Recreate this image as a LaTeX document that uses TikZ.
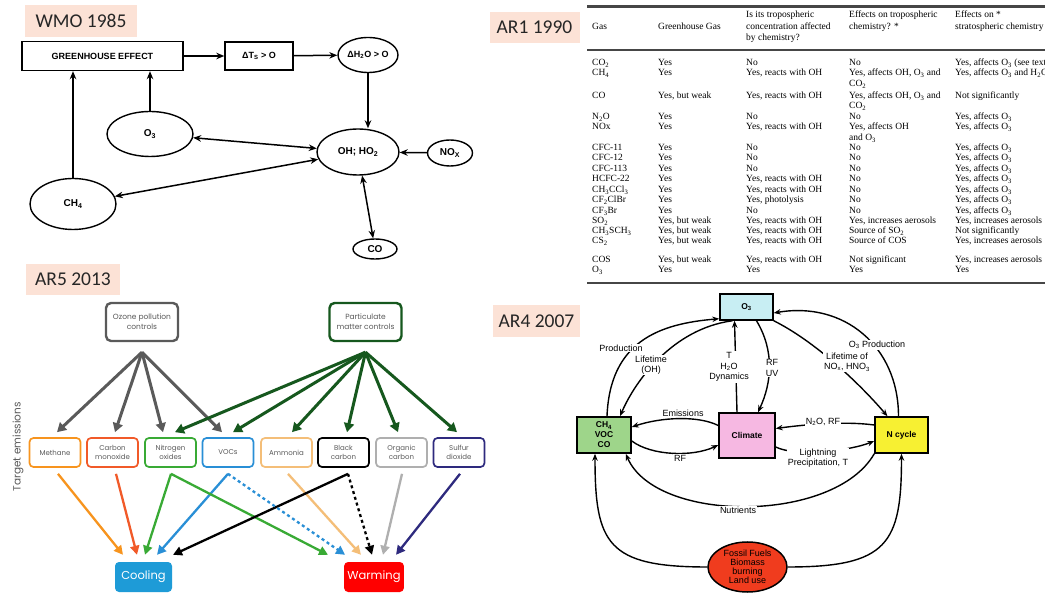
\documentclass[tikz,border=0pt]{standalone}
\usepackage{fontspec}
\setmainfont{Liberation Sans}
\newfontfamily\tabfont{Liberation Serif}
\newfontfamily\tagfont{Carlito}
\newfontfamily\arfont{Poppins}
\usepackage{tikz}
\usetikzlibrary{arrows.meta,calc,positioning,shapes.geometric}
\definecolor{tagpeach}{RGB}{252,226,214}
\definecolor{rulegray}{RGB}{70,70,70}
\definecolor{ozgray}{RGB}{90,90,90}
\definecolor{pmgreen}{RGB}{22,88,30}
\definecolor{emorange}{RGB}{247,148,30}
\definecolor{emred}{RGB}{241,90,41}
\definecolor{emgreen}{RGB}{57,170,53}
\definecolor{emblue}{RGB}{41,143,214}
\definecolor{emtan}{RGB}{244,190,120}
\definecolor{emgray}{RGB}{175,175,175}
\definecolor{emindigo}{RGB}{46,42,126}
\definecolor{coolblue}{RGB}{30,155,215}
\definecolor{warmred}{RGB}{255,0,0}
\definecolor{othreecyan}{RGB}{200,238,243}
\definecolor{climpink}{RGB}{246,184,226}
\definecolor{chfgreen}{RGB}{158,213,138}
\definecolor{ncycyellow}{RGB}{247,240,50}
\definecolor{fossred}{RGB}{240,60,30}
\newcommand{\chsub}[1]{\textsubscript{#1}}

\begin{document}
\begin{tikzpicture}[x=1pt,y=-1pt,
    yeartag/.style={fill=tagpeach,inner sep=0pt,text=black!85,font=\tagfont\fontsize{19.5}{22}\selectfont},
    wbox/.style={draw,line width=1.4pt,inner sep=0pt,font=\bfseries\fontsize{9}{10}\selectfont},
    well/.style={wbox,ellipse,font=\bfseries\fontsize{10}{11}\selectfont},
    warr/.style={line width=1.5pt,-{Stealth[length=8pt,width=6.5pt]}},
    wdbl/.style={line width=1.5pt,{Stealth[length=8pt,width=6.5pt]}-{Stealth[length=8pt,width=6.5pt]}},
    tcell/.style={anchor=base west,inner sep=0pt,font=\tabfont\fontsize{9.5}{11.5}\selectfont},
    thead/.style={anchor=north west,align=left,inner sep=0pt,font=\tabfont\fontsize{9.5}{11.5}\selectfont},
    ctrl/.style={draw,rounded corners=5pt,line width=2.4pt,minimum width=72,minimum height=38,align=center,text=ozgray,font=\arfont\fontsize{7.5}{10}\selectfont},
    emit/.style={draw,rounded corners=4pt,line width=1.7pt,minimum width=51,minimum height=29,align=center,text=ozgray,font=\arfont\fontsize{7}{9}\selectfont},
    effbox/.style={rounded corners=4pt,minimum width=57,minimum height=30,text=white,font=\arfont\fontsize{11.5}{12}\selectfont},
    cup/.style={line width=3pt,-{Triangle[length=9pt,width=10pt]}},
    cdown/.style={line width=2.3pt,-{Triangle[length=9pt,width=9pt]}},
    abox/.style={draw,line width=1.5pt,align=center,inner sep=0pt,font=\bfseries\fontsize{8.5}{10}\selectfont},
    aarr/.style={line width=1.4pt,-{Stealth[length=7pt,width=5.5pt]}},
    alab/.style={fill=white,inner sep=1pt,align=center,font=\fontsize{9}{10.5}\selectfont}]
    \fill[white] (0,0) rectangle (1045,593);
    \useasboundingbox (0,0) rectangle (1045,593);

    % WMO 1985
    \node[yeartag,minimum width=112,minimum height=32] (tagwmo) at (81,21) {WMO 1985};
    \node[wbox,minimum width=161,minimum height=29] (ghe) at (102.5,56) {GREENHOUSE EFFECT};
    \node[wbox,minimum width=68,minimum height=28] (dts) at (259,56) {ΔT\chsub{S} > O};
    \node[well,minimum width=60,minimum height=35,font=\bfseries\fontsize{9}{10}\selectfont] (dh2o) at (368,55) {ΔH\chsub{2}O > O};
    \node[well,minimum width=86,minimum height=45] (oz) at (150,134) {O\chsub{3}};
    \node[well,minimum width=82,minimum height=46] (ohho) at (358,152) {OH; HO\chsub{2}};
    \node[well,minimum width=45,minimum height=26] (nox) at (450,153) {NO\chsub{X}};
    \node[well,minimum width=86,minimum height=51] (ch4) at (73,204) {CH\chsub{4}};
    \node[well,minimum width=44,minimum height=20] (co) at (375,249) {CO};
    \draw[warr] (ghe) -- (dts);
    \draw[warr] (dts) -- (dh2o);
    \draw[warr] (dh2o.south) -- (dh2o.south |- ohho.north);
    \draw[warr] (oz.north) -- (oz.north |- ghe.south);
    \draw[warr] (ch4.north) -- (ch4.north |- ghe.south);
    \draw[wdbl] (oz) -- (ohho);
    \draw[wdbl] (ch4) -- (ohho);
    \draw[warr] (nox) -- (ohho);
    \draw[wdbl] (ohho) -- (co);

    % AR1 1990
    \node[yeartag,minimum width=90,minimum height=31] (tagar1) at (534.5,27.5) {AR1 1990};
    \draw[rulegray,line width=2.2pt] (587,6.5) -- (1045,6.5);
    \draw[rulegray,line width=1.8pt] (587,50) -- (1045,50);
    \draw[rulegray,line width=2.2pt] (587,283) -- (1045,283);
    \node[tcell] (hgas) at (592,30) {Gas};
    \node[tcell] (hghg) at (658,30) {Greenhouse Gas};
    \node[thead] (hconc) at (746,11) {Is its tropospheric\\concentration affected\\by chemistry?};
    \node[thead] (htrop) at (849,11) {Effects on tropospheric\\chemistry? *};
    \node[thead] (hstrat) at (955,11) {Effects on *\\stratospheric chemistry};
    \foreach \yy/\ga/\gh/\cn/\tr/\st [count=\i] in {
        66/CO\chsub{2}/Yes/No/No/{Yes, affects O\chsub{3} (see text)},
        76/CH\chsub{4}/Yes/{Yes, reacts with OH}/{Yes, affects OH, O\chsub{3} and}/{Yes, affects O\chsub{3} and H\chsub{2}O},
        87/{}/{}/{}/CO\chsub{2}/{},
        99/CO/{Yes, but weak}/{Yes, reacts with OH}/{Yes, affects OH, O\chsub{3} and}/{Not significantly},
        109/{}/{}/{}/CO\chsub{2}/{},
        120/N\chsub{2}O/Yes/No/No/{Yes, affects O\chsub{3}},
        130/NOx/Yes/{Yes, reacts with OH}/{Yes, affects OH}/{Yes, affects O\chsub{3}},
        141/{}/{}/{}/{and O\chsub{3}}/{},
        151/CFC-11/Yes/No/No/{Yes, affects O\chsub{3}},
        161/CFC-12/Yes/No/No/{Yes, affects O\chsub{3}},
        172/CFC-113/Yes/No/No/{Yes, affects O\chsub{3}},
        182/HCFC-22/Yes/{Yes, reacts with OH}/No/{Yes, affects O\chsub{3}},
        193/CH\chsub{3}CCl\chsub{3}/Yes/{Yes, reacts with OH}/No/{Yes, affects O\chsub{3}},
        203/CF\chsub{2}ClBr/Yes/{Yes, photolysis}/No/{Yes, affects O\chsub{3}},
        214/CF\chsub{3}Br/Yes/No/No/{Yes, affects O\chsub{3}},
        224/SO\chsub{2}/{Yes, but weak}/{Yes, reacts with OH}/{Yes, increases aerosols}/{Yes, increases aerosols},
        234/CH\chsub{3}SCH\chsub{3}/{Yes, but weak}/{Yes, reacts with OH}/{Source of SO\chsub{2}}/{Not significantly},
        244/CS\chsub{2}/{Yes, but weak}/{Yes, reacts with OH}/{Source of COS}/{Yes, increases aerosols},
        263/COS/{Yes, but weak}/{Yes, reacts with OH}/{Not significant}/{Yes, increases aerosols},
        273/O\chsub{3}/Yes/Yes/Yes/Yes}{
        \node[tcell] (gas\i) at (592,\yy) {\ga};
        \node[tcell] (ghg\i) at (658,\yy) {\gh};
        \node[tcell] (conc\i) at (746,\yy) {\cn};
        \node[tcell] (trop\i) at (849,\yy) {\tr};
        \node[tcell] (strat\i) at (955,\yy) {\st};
    }

    % AR5 2013
    \node[yeartag,minimum width=94,minimum height=31] (tagar5) at (73,279.5) {AR5 2013};
    \node[ctrl,draw=ozgray] (ozc) at (142,322) {Ozone pollution\\controls};
    \node[ctrl,draw=pmgreen] (pmc) at (365.5,322) {Particulate\\matter controls};
    \coordinate[below=10pt of ozc] (ozsrc);
    \coordinate[below=10pt of pmc] (pmsrc);
    \foreach \nm/\tx/\col/\xx in {meth/Methane/emorange/55, cmon/{Carbon\\monoxide}/emred/112.5,
        nox2/{Nitrogen\\oxides}/emgreen/170.5, voc/VOCs/emblue/228, amm/Ammonia/emtan/286.5,
        bc/{Black\\carbon}/black/343.5, oc/{Organic\\carbon}/emgray/401.5, so/{Sulfur\\dioxide}/emindigo/459}
        \node[emit,draw=\col] (\nm) at (\xx,452.5) {\tx};
    \node[rotate=90,text=ozgray,font=\arfont\fontsize{10.5}{11}\selectfont] (tgt) at (18,447) {Target emissions};
    \node[effbox,fill=coolblue] (cool) at (143.5,577) {Cooling};
    \node[effbox,fill=warmred] (warm) at (374,577) {Warming};
    \foreach \dst/\dx in {meth/2, cmon/2.5, nox2/-7.5, voc/-6}
        \draw[cup,ozgray] (ozsrc) -- ([xshift=\dx,yshift=5]\dst.north);
    \foreach \dst/\dx in {nox2/4.5, voc/5, amm/5.5, bc/3.5, oc/-3.5, so/-2}
        \draw[cup,pmgreen] (pmsrc) -- ([xshift=\dx,yshift=5]\dst.north);
    \foreach \src/\dst/\sx/\dx/\col in {meth/cool/3/-20.5/emorange, cmon/cool/3.5/-6.5/emred,
        nox2/cool/0.5/1.5/emgreen, voc/cool/0/13.5/emblue, amm/warm/1.5/-13/emtan,
        oc/warm/0.5/9/emgray, so/warm/1/22/emindigo, nox2/warm/0.5/-46/emgreen, bc/cool/4.5/29.5/black}
        \draw[cdown,\col] ([xshift=\sx,yshift=-6]\src.south) -- ([xshift=\dx,yshift=7]\dst.north);
    \draw[cdown,emblue,dashed] ([yshift=-6]voc.south) -- ([xshift=-29,yshift=7]warm.north);
    \draw[cdown,black,dashed] ([xshift=4.5,yshift=-6]bc.south) -- ([xshift=-2,yshift=7]warm.north);

    % AR4 2007
    \node[yeartag,minimum width=87,minimum height=32] (tagar4) at (536.5,321) {AR4 2007};
    \node[abox,fill=othreecyan,minimum width=53,minimum height=26] (ozn) at (746.5,307) {O\chsub{3}};
    \node[abox,fill=climpink,minimum width=56,minimum height=45] (clim) at (747,435.5) {Climate};
    \node[abox,fill=chfgreen,minimum width=54,minimum height=36] (chv) at (604,435) {CH\chsub{4}\\VOC\\CO};
    \node[abox,fill=ncycyellow,minimum width=53,minimum height=36] (ncyc) at (901.5,435) {N cycle};
    \node[abox,ellipse,fill=fossred,minimum width=79,minimum height=50,font=\fontsize{9}{9}\selectfont] (foss) at (747.5,567) {Fossil Fuels\\Biomass\\burning\\Land use};
    \draw[aarr] ([xshift=3]chv.north) .. controls +(3,-75) and +(-60,5) .. ([yshift=2]ozn.south west);
    \draw[aarr] ([xshift=-14]ozn.south) .. controls +(-60,8) and +(15,-35) .. ([xshift=16]chv.north);
    \draw[aarr] ([xshift=-10]clim.north) -- ([xshift=-12]ozn.south);
    \draw[aarr] ([xshift=10]ozn.south) .. controls +(18,30) and +(14,-30) .. ([xshift=11]clim.north);
    \draw[aarr] (ozn.south east) .. controls +(40,20) and +(-30,-35) .. ([xshift=-14]ncyc.north);
    \draw[aarr] ([xshift=-3]ncyc.north) .. controls +(0,-70) and +(70,-12) .. ([yshift=-6]ozn.east);
    \draw[aarr] ([yshift=10]clim.west) .. controls +(-20,-10) and +(30,-10) .. ([yshift=8]chv.east);
    \draw[aarr] ([yshift=10]ncyc.west) .. controls +(-30,-4) and +(30,-4) .. ([yshift=7]clim.east);
    \draw[aarr] ([yshift=-6]chv.east) .. controls +(20,15) and +(-25,12) .. ([yshift=-9.5]clim.west);
    \draw[aarr] ([yshift=-11.5]clim.east) .. controls +(20,10) and +(-25,10) .. ([yshift=-6]ncyc.west);
    \draw[aarr] (ncyc.south west) .. controls +(-40,70) and +(30,70) .. ([xshift=-6]chv.south east);
    \draw[aarr] (foss.west) .. controls +(-100,0) and +(0,90) .. ([xshift=-9]chv.south);
    \draw[aarr] (foss.east) .. controls +(100,0) and +(0,90) .. (ncyc.south);
    \node[alab] (lprod) at (621,348) {Production};
    \node[alab] (llife) at (651,365) {Lifetime\\(OH)};
    \node[alab] (ldyn) at (729,367) {T\\H\chsub{2}O\\Dynamics};
    \node[alab] (lrfuv) at (772,368) {RF\\UV};
    \node[alab] (lnox) at (847,362) {Lifetime of\\NO\chsub{x}, HNO\chsub{3}};
    \node[alab] (lo3p) at (877,345) {O\chsub{3} Production};
    \node[alab] (lemis) at (683,413) {Emissions};
    \node[alab] (ln2o) at (823,422) {N\chsub{2}O, RF};
    \node[alab] (lrf) at (680,458) {RF};
    \node[alab] (llight) at (818,458) {Lightning\\Precipitation, T};
    \node[alab] (lnutr) at (738,510) {Nutrients};
\end{tikzpicture}
\end{document}
